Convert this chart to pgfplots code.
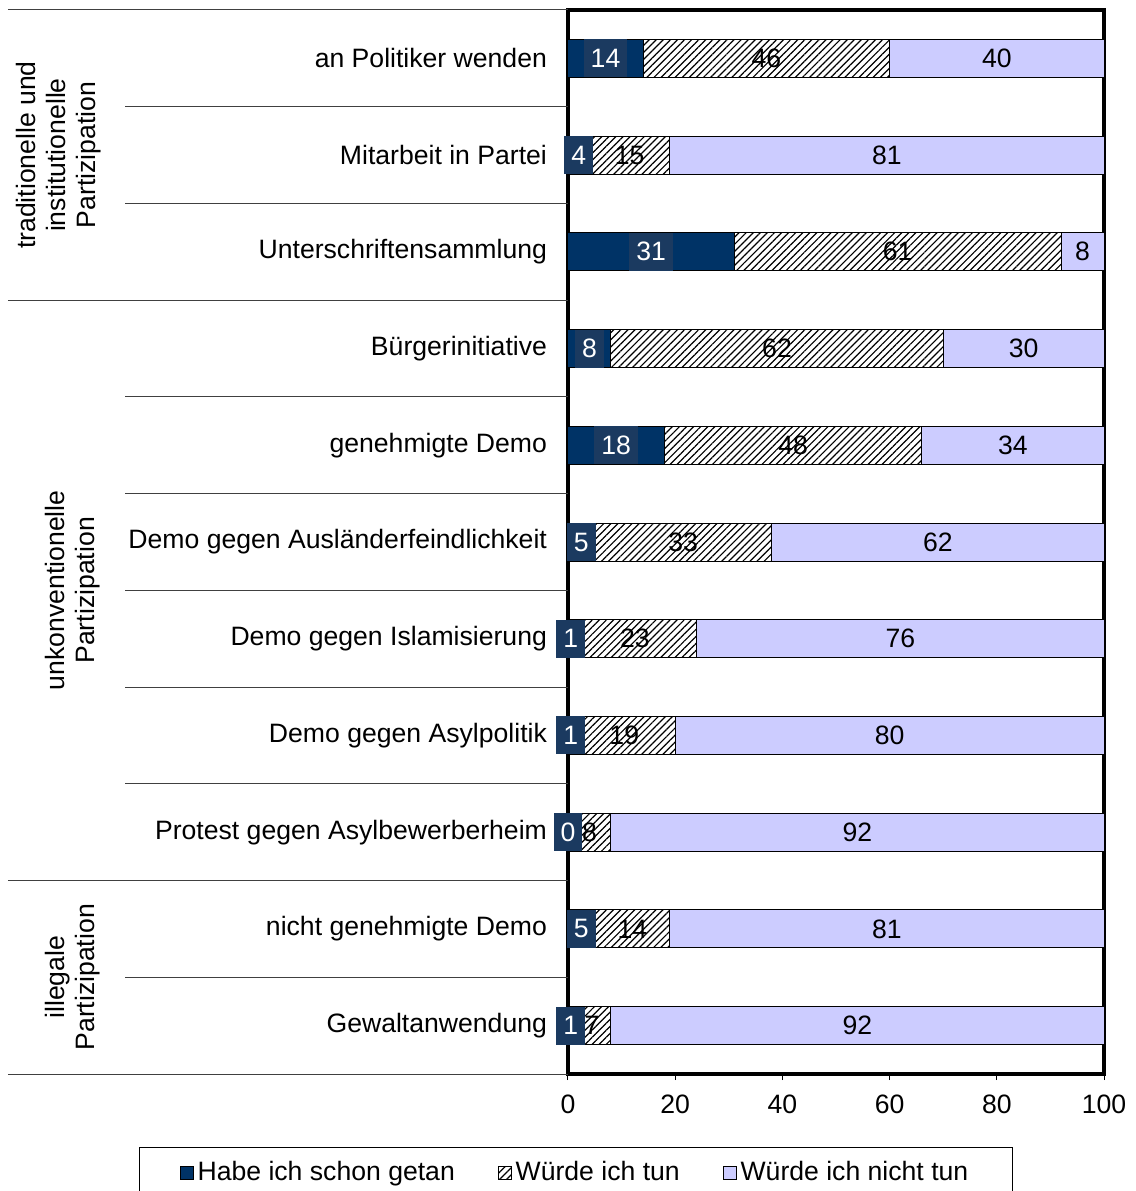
\documentclass[border=0pt]{standalone}
\usepackage{pgfplots}
\pgfplotsset{compat=1.18}
\usepackage{pgfplotstable}
\usetikzlibrary{patterns.meta}
\usepackage{fontspec}
\setmainfont{Liberation Sans}
\definecolor{darkbar}{HTML}{003366}
\definecolor{darkbox}{HTML}{1B3A60}
\definecolor{lightbar}{HTML}{CCCCFF}
\definecolor{sepline}{HTML}{404040}

\pgfplotstableread{
y a b c
0 14 46 40
1 4 15 81
2 31 61 8
3 8 62 30
4 18 48 34
5 5 33 62
6 1 23 76
7 1 19 80
8 0 8 92
9 5 14 81
10 1 7 92
}\datatab

\newcommand{\fs}{\fontsize{13.3pt}{15pt}\selectfont}
\tikzset{darklabel/.style={anchor=center, text=white, fill=darkbox, inner xsep=3.5pt, inner ysep=0pt, minimum height=19pt, font=\fs}}

\begin{document}
\begin{tikzpicture}[font=\fs]
\begin{axis}[
  scale only axis,
  width=268pt, height=532pt,
  xbar stacked,
  bar width=19pt,
  xmin=0, xmax=100,
  ymin=-0.5, ymax=10.5,
  y dir=reverse,
  enlargelimits=false,
  clip=false,
  axis line style={line width=2pt, black},
  xtick={0,20,40,60,80,100},
  xtick pos=bottom,
  tick align=outside,
  major tick length=3pt,
  x tick style={line width=0.5pt, black},
  ytick={0,1,2,3,4,5,6,7,8,9,10},
  y tick style={draw=none},
  yticklabels={an Politiker wenden, Mitarbeit in Partei, Unterschriftensammlung, Bürgerinitiative, genehmigte Demo, Demo gegen Ausländerfeindlichkeit, Demo gegen Islamisierung, Demo gegen Asylpolitik, Protest gegen Asylbewerberheim, nicht genehmigte Demo, Gewaltanwendung},
  tick label style={font=\fs},
  /pgf/number format/assume math mode=true,
  yticklabel style={anchor=east, xshift=-4pt},
  xticklabel style={yshift=-4pt},
  point meta=explicit symbolic,
  nodes near coords,
  legend columns=3,
  legend cell align=left,
  legend style={at={(0.015,0)}, anchor=north, yshift=-36.5pt, draw=black, line width=0.5pt,
    inner xsep=20pt, inner ysep=5pt, font=\fs,
    /tikz/every even column/.append style={column sep=19.5pt}},
  legend image code/.code={\draw[#1, draw=black, line width=0.4pt] (-1pt,-3.25pt) rectangle (5.5pt,3.25pt);},
]
\addplot[fill=darkbar, draw=black, line width=0.5pt,
  every node near coord/.append style={darklabel}]
  table[x=a, y=y, meta=a] {\datatab};
\addlegendentry{Habe ich schon getan}
\addplot[fill=white, draw=black, line width=0.5pt,
  postaction={pattern={Lines[angle=45, distance=2.5pt, line width=0.6pt]}},
  every node near coord/.append style={anchor=center, text=black, font=\fs}]
  table[x=b, y=y, meta=b] {\datatab};
\addlegendentry{Würde ich tun}
\addplot[fill=lightbar, draw=black, line width=0.5pt,
  every node near coord/.append style={anchor=center, text=black, font=\fs}]
  table[x=c, y=y, meta=c] {\datatab};
\addlegendentry{Würde ich nicht tun}
% label of the zero-length bar (Protest gegen Asylbewerberheim)
\addplot[forget plot, stack plots=false, draw=none, mark=none, only marks,
  every node near coord/.append style={darklabel}]
  coordinates {(0,8) [0]};

% group separators
\draw[sepline, line width=0.5pt] (axis cs:-82.6,0.5) -- (axis cs:0,0.5);
\draw[sepline, line width=0.5pt] (axis cs:-82.6,1.5) -- (axis cs:0,1.5);
\draw[sepline, line width=0.5pt] (axis cs:-82.6,3.5) -- (axis cs:0,3.5);
\draw[sepline, line width=0.5pt] (axis cs:-82.6,4.5) -- (axis cs:0,4.5);
\draw[sepline, line width=0.5pt] (axis cs:-82.6,5.5) -- (axis cs:0,5.5);
\draw[sepline, line width=0.5pt] (axis cs:-82.6,6.5) -- (axis cs:0,6.5);
\draw[sepline, line width=0.5pt] (axis cs:-82.6,7.5) -- (axis cs:0,7.5);
\draw[sepline, line width=0.5pt] (axis cs:-82.6,9.5) -- (axis cs:0,9.5);
\draw[sepline, line width=0.5pt] (axis cs:-104.5,-0.5) -- (axis cs:0,-0.5);
\draw[sepline, line width=0.5pt] (axis cs:-104.5,2.5) -- (axis cs:0,2.5);
\draw[sepline, line width=0.5pt] (axis cs:-104.5,8.5) -- (axis cs:0,8.5);
\draw[sepline, line width=0.5pt] (axis cs:-104.5,10.5) -- (axis cs:0,10.5);
% group labels
\node[rotate=90, align=center, font=\fs] at (axis cs:-95.1,1.0) {traditionelle und\\institutionelle\\Partizipation};
\node[rotate=90, align=center, font=\fs] at (axis cs:-92.4,5.5) {unkonventionelle\\Partizipation};
\node[rotate=90, align=center, font=\fs] at (axis cs:-92.4,9.5) {illegale\\Partizipation};

\coordinate (BL) at (axis description cs:0,0);
\coordinate (TR) at (axis description cs:1,1);
\end{axis}
\pgfresetboundingbox
\path ([shift={(-284pt,-58.5pt)}]BL) rectangle ([shift={(15.5pt,5pt)}]TR);
\end{tikzpicture}
\end{document}
